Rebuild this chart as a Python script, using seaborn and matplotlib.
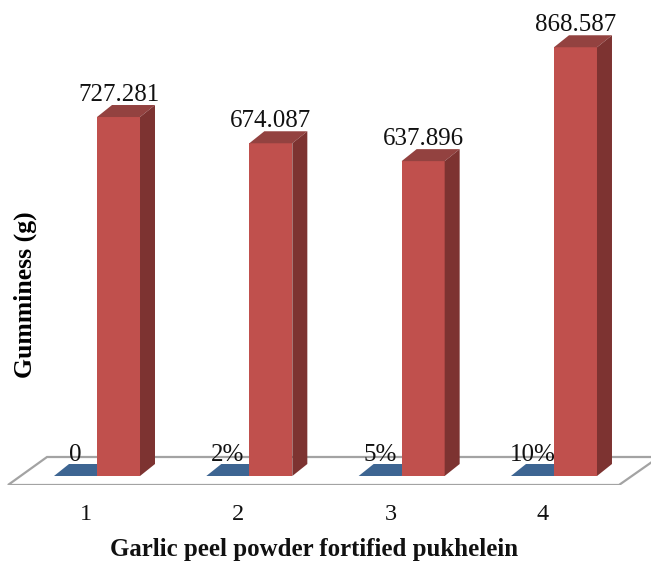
import matplotlib
matplotlib.use("Agg")
import matplotlib.pyplot as plt
import pandas as pd
import seaborn as sns
from matplotlib.patches import Polygon

categories = ["1", "2", "3", "4"]
concentration = [0, 0, 0, 0]
concentration_labels = ["0", "2%", "5%", "10%"]
gumminess = [727.281, 674.087, 637.896, 868.587]
gumminess_labels = ["727.281", "674.087", "637.896", "868.587"]

W, H = 651, 562
PX_X = 152.33          # pixels per category
PX_Y = 0.4936          # pixels per gumminess unit
X0 = 97                # pixel of first category centre
Y0 = 476               # pixel of value 0
FLOOR_BOTTOM = 485

RED, RED_TOP, RED_SIDE = "#C0504D", "#934240", "#7D3331"
BLUE, FLOOR_EDGE = "#3D6592", "#A3A3A3"

sns.set_theme(style="white")
plt.rcParams["font.family"] = ["Liberation Serif", "DejaVu Serif"]

df = pd.DataFrame({
    "group": categories * 2,
    "value": concentration + gumminess,
    "series": ["concentration"] * 4 + ["gumminess"] * 4,
})

fig = plt.figure(figsize=(W / 100, H / 100), dpi=100, facecolor="white")
ax = fig.add_axes([0, (H - FLOOR_BOTTOM) / H, 1, FLOOR_BOTTOM / H])
sns.barplot(data=df, x="group", y="value", hue="series", order=categories,
            palette=[BLUE, RED], width=86 / PX_X, gap=0, dodge=True,
            legend=False, saturation=1, ax=ax, linewidth=0, zorder=3)
ax.set_xlim(-X0 / PX_X, (W - X0) / PX_X)
ax.set_ylim(-(FLOOR_BOTTOM - Y0) / PX_Y, Y0 / PX_Y)
for s in ax.spines.values():
    s.set_visible(False)

dx = 15 / PX_X
dy = 12 / PX_Y

# floor
fx = [(8 - X0) / PX_X, (47 - X0) / PX_X, (659 - X0) / PX_X, (619 - X0) / PX_X]
fy = [(Y0 - 485) / PX_Y, (Y0 - 457) / PX_Y, (Y0 - 457) / PX_Y, (Y0 - 485) / PX_Y]
ax.add_patch(Polygon(list(zip(fx, fy)), closed=True, facecolor="white",
                     edgecolor=FLOOR_EDGE, linewidth=1.6, zorder=1,
                     clip_on=True, joinstyle="miter"))

# extrusion of each bar from its own geometry
bars = sorted([p for p in ax.patches if not isinstance(p, Polygon)],
              key=lambda p: p.get_x())
for p in bars:
    x0, x1, h = p.get_x(), p.get_x() + p.get_width(), p.get_height()
    is_red = h > 0
    ax.add_patch(Polygon([(x0, h), (x0 + dx, h + dy), (x1 + dx, h + dy), (x1, h)],
                         closed=True, facecolor=RED_TOP if is_red else BLUE,
                         edgecolor="none", zorder=2.5 if not is_red else 3))
    if is_red:
        ax.add_patch(Polygon([(x1, 0), (x1 + dx, dy), (x1 + dx, h + dy), (x1, h)],
                             closed=True, facecolor=RED_SIDE, edgecolor="none", zorder=3))

# value labels
red_bars = [p for p in bars if p.get_height() > 0]
blue_bars = [p for p in bars if p.get_height() == 0]
for p, lab in zip(red_bars, gumminess_labels):
    ax.annotate(lab, (p.get_x() + p.get_width() / 2, p.get_height()),
                xytext=(0, 8), textcoords="offset points", ha="center", va="bottom",
                fontsize=18, color="#111111", zorder=5)
for p, lab in zip(blue_bars, concentration_labels):
    ax.annotate(lab, (p.get_x() + p.get_width() / 2, 0),
                xytext=(0, 7), textcoords="offset points", ha="center", va="bottom",
                fontsize=18, color="#111111", zorder=5)

# axes text
ax.set_yticks([])
ax.set_xticks([i - 11 / PX_X for i in range(len(categories))])
ax.set_xticklabels(categories, fontsize=17.5, color="#111111")
ax.tick_params(axis="x", length=0, pad=14)
ax.set_xlabel("Garlic peel powder fortified pukhelein", fontsize=17.9,
              fontweight="bold", color="#111111")
ax.xaxis.set_label_coords(314 / W, -(547 - FLOOR_BOTTOM) / FLOOR_BOTTOM)
ax.xaxis.label.set_va("center_baseline")
ax.set_ylabel("Gumminess (g)", fontsize=18.5, fontweight="bold", color="black")
ax.yaxis.set_label_coords(25 / W, 1 - 295 / FLOOR_BOTTOM)
ax.yaxis.label.set_va("center")

fig.savefig("out.png", dpi=100, facecolor="white")
